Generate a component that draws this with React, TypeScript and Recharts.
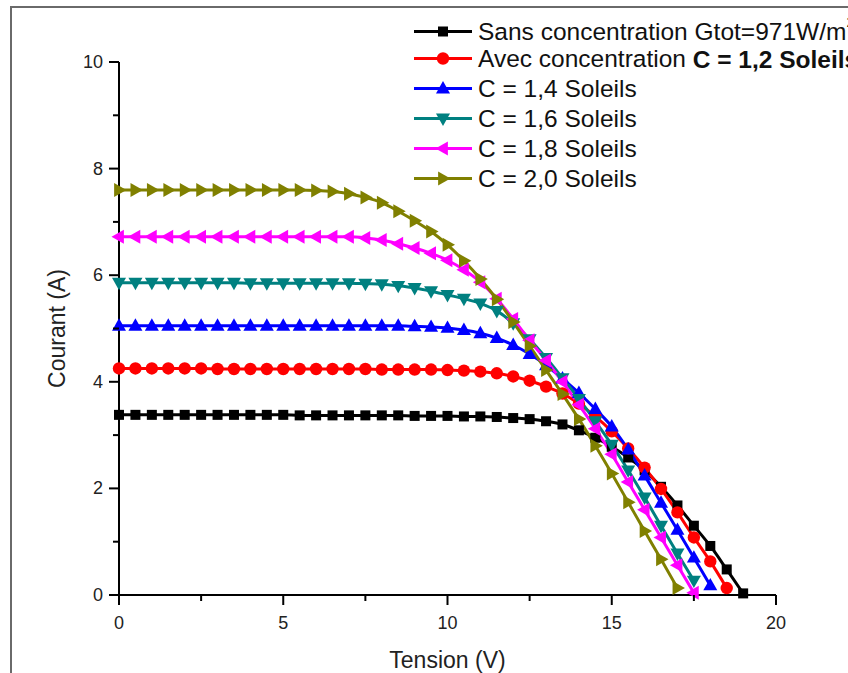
import React from 'react';
import { LineChart, Line, XAxis, YAxis, Legend } from 'recharts';

// Tension (V) grid shared by all curves
const voltage = [
  0, 0.5, 1, 1.5, 2, 2.5, 3, 3.5, 4, 4.5, 5, 5.5, 6, 6.5, 7, 7.5, 8, 8.5, 9, 9.5,
  10, 10.5, 11, 11.5, 12, 12.5, 13, 13.5, 14, 14.5, 15, 15.5, 16, 16.5, 17, 17.5,
  18, 18.5, 19,
];

// Courant (A) for each curve
const sansConcentration = [
  3.38, 3.38, 3.38, 3.38, 3.38, 3.38, 3.38, 3.38, 3.38, 3.38, 3.38, 3.37, 3.37, 3.37,
  3.37, 3.37, 3.37, 3.37, 3.36, 3.36, 3.36, 3.35, 3.35, 3.34, 3.32, 3.3, 3.26, 3.2,
  3.09, 2.95, 2.78, 2.58, 2.34, 2.03, 1.68, 1.3, 0.92, 0.48, 0.03,
];
const c12 = [
  4.25, 4.25, 4.25, 4.25, 4.25, 4.25, 4.24, 4.24, 4.24, 4.24, 4.24, 4.24, 4.24, 4.24,
  4.24, 4.24, 4.23, 4.23, 4.23, 4.23, 4.22, 4.21, 4.19, 4.16, 4.1, 4.02, 3.91, 3.78,
  3.59, 3.35, 3.07, 2.75, 2.39, 1.99, 1.55, 1.08, 0.63, 0.13,
];
const c14 = [
  5.05, 5.05, 5.05, 5.05, 5.05, 5.05, 5.05, 5.05, 5.05, 5.05, 5.05, 5.05, 5.05, 5.05,
  5.05, 5.05, 5.05, 5.05, 5.04, 5.03, 5.01, 4.97, 4.91, 4.82, 4.69, 4.52, 4.31, 4.06,
  3.79, 3.49, 3.16, 2.73, 2.24, 1.73, 1.22, 0.7, 0.18,
];
const c16 = [
  5.86, 5.86, 5.86, 5.86, 5.86, 5.86, 5.86, 5.86, 5.85, 5.85, 5.85, 5.85, 5.85, 5.85,
  5.85, 5.84, 5.83, 5.8, 5.76, 5.7, 5.63, 5.56, 5.47, 5.33, 5.1, 4.8, 4.45, 4.07,
  3.68, 3.26, 2.82, 2.34, 1.83, 1.3, 0.78, 0.27,
];
const c18 = [
  6.72, 6.72, 6.72, 6.72, 6.72, 6.72, 6.72, 6.72, 6.72, 6.72, 6.72, 6.72, 6.72, 6.72,
  6.72, 6.7, 6.66, 6.59, 6.51, 6.41, 6.28, 6.1, 5.87, 5.56, 5.18, 4.78, 4.4, 4.0,
  3.57, 3.12, 2.64, 2.12, 1.6, 1.08, 0.56, 0.04,
];
const c20 = [
  7.6, 7.6, 7.6, 7.6, 7.6, 7.6, 7.6, 7.6, 7.6, 7.6, 7.6, 7.6, 7.59, 7.57, 7.53, 7.46,
  7.36, 7.2, 7.02, 6.82, 6.57, 6.27, 5.93, 5.55, 5.12, 4.67, 4.22, 3.77, 3.3, 2.8,
  2.28, 1.74, 1.2, 0.67, 0.13,
];

const seriesValues = [sansConcentration, c12, c14, c16, c18, c20];
const seriesKeys = ['sans', 'c12', 'c14', 'c16', 'c18', 'c20'];
const seriesColors = ['#000000', '#ff0000', '#0000ff', '#008080', '#ff00ff', '#808000'];
const seriesShapes = ['square', 'circle', 'up', 'down', 'left', 'right'];
const legendPlain = [
  'Sans concentration Gtot=971W/m',
  'Avec concentration ',
  'C = 1,4 Soleils',
  'C = 1,6 Soleils',
  'C = 1,8 Soleils',
  'C = 2,0 Soleils',
];
const legendBold = ['', 'C = 1,2 Soleils', '', '', '', ''];
const legendSup = ['2', '', '', '', '', ''];

const xTicks = [0, 2.5, 5, 7.5, 10, 12.5, 15, 17.5, 20];
const yTicks = [0, 1, 2, 3, 4, 5, 6, 7, 8, 9, 10];

const FONT = '"Liberation Sans", Arial, Helvetica, sans-serif';

const seriesData = seriesValues.map((vals) =>
  vals.map((cur, i) => ({ v: voltage[i], i: cur }))
);

function Marker({ shape, cx, cy, color }: any) {
  const s = 7;
  switch (shape) {
    case 'square':
      return <rect x={cx - 5} y={cy - 5} width={10} height={10} fill={color} />;
    case 'circle':
      return <circle cx={cx} cy={cy} r={6.2} fill={color} />;
    case 'up':
      return (
        <polygon
          points={`${cx},${cy - s - 0.5} ${cx + s},${cy + s * 0.7} ${cx - s},${cy + s * 0.7}`}
          fill={color}
        />
      );
    case 'down':
      return (
        <polygon
          points={`${cx},${cy + s + 0.5} ${cx + s},${cy - s * 0.7} ${cx - s},${cy - s * 0.7}`}
          fill={color}
        />
      );
    case 'left':
      return (
        <polygon
          points={`${cx - s - 0.5},${cy} ${cx + s * 0.7},${cy - s} ${cx + s * 0.7},${cy + s}`}
          fill={color}
        />
      );
    default:
      return (
        <polygon
          points={`${cx + s + 0.5},${cy} ${cx - s * 0.7},${cy - s} ${cx - s * 0.7},${cy + s}`}
          fill={color}
        />
      );
  }
}

const makeDot = (k: number) => (props: any) => {
  const { cx, cy, index } = props;
  if (cx == null || cy == null) return <g key={`d-${k}-${index}`} />;
  return (
    <g key={`d-${k}-${index}`}>
      <Marker shape={seriesShapes[k]} cx={cx} cy={cy} color={seriesColors[k]} />
    </g>
  );
};

const XTick = (props: any) => {
  const { x, y, payload } = props;
  const major = payload.value % 5 === 0;
  return (
    <g>
      <line x1={x} y1={y} x2={x} y2={y + (major ? 10 : 6)} stroke="#000" strokeWidth={2} />
      {major && (
        <text
          x={x}
          y={y + 28}
          textAnchor="middle"
          dominantBaseline="central"
          fontSize={18}
          fontFamily={FONT}
          fill="#222"
        >
          {payload.value}
        </text>
      )}
    </g>
  );
};

const YTick = (props: any) => {
  const { x, y, payload } = props;
  const major = payload.value % 2 === 0;
  return (
    <g>
      <line x1={x} y1={y} x2={x - (major ? 10 : 6)} y2={y} stroke="#000" strokeWidth={2} />
      {major && (
        <text
          x={x - 16}
          y={y}
          textAnchor="end"
          dominantBaseline="central"
          fontSize={18}
          fontFamily={FONT}
          fill="#222"
        >
          {payload.value}
        </text>
      )}
    </g>
  );
};

const renderLegend = () => {
  const rowsY = [31.5, 58.5, 88.5, 118.5, 148.5, 178.5];
  return (
    <svg width={848} height={200} style={{ display: 'block' }}>
      {seriesKeys.map((k, idx) => {
        const y = rowsY[idx];
        return (
          <g key={k}>
            <line x1={414} y1={y} x2={472} y2={y} stroke={seriesColors[idx]} strokeWidth={3} />
            <Marker shape={seriesShapes[idx]} cx={443} cy={y} color={seriesColors[idx]} />
            <text
              x={478}
              y={y}
              dominantBaseline="central"
              fontSize={24.5}
              fontFamily={FONT}
              fill="#111"
            >
              {legendPlain[idx]}
              {legendBold[idx] && <tspan fontWeight="bold">{legendBold[idx]}</tspan>}
              {legendSup[idx] && (
                <tspan fontSize={14} dy={-10}>
                  {legendSup[idx]}
                </tspan>
              )}
            </text>
          </g>
        );
      })}
    </svg>
  );
};

export default function App() {
  return (
    <div
      style={{
        position: 'fixed',
        left: 0,
        top: 0,
        width: 848,
        height: 673,
        overflow: 'hidden',
        background: '#fff',
      }}
    >
      <div
        style={{
          position: 'absolute',
          left: 10,
          top: 6,
          width: 900,
          height: 700,
          border: '2px solid #6a6a6a',
          boxSizing: 'border-box',
        }}
      />
      <div style={{ position: 'absolute', left: 0, top: 0 }}>
        <LineChart
          width={848}
          height={673}
          margin={{ top: 62, right: 72, left: 59, bottom: 28 }}
        >
          <XAxis
            type="number"
            dataKey="v"
            domain={[0, 20]}
            ticks={xTicks}
            interval={0}
            allowDuplicatedCategory={false}
            height={50}
            tickSize={0}
            tickMargin={0}
            tickLine={false}
            axisLine={{ stroke: '#000', strokeWidth: 2 }}
            tick={<XTick />}
            label={{
              content: (p: any) => {
                const vb = p.viewBox;
                return (
                  <text
                    x={vb.x + vb.width / 2}
                    y={vb.y + 65}
                    textAnchor="middle"
                    dominantBaseline="central"
                    fontSize={23}
                    fontFamily={FONT}
                    fill="#222"
                  >
                    Tension (V)
                  </text>
                );
              },
            }}
          />
          <YAxis
            type="number"
            domain={[0, 10]}
            ticks={yTicks}
            interval={0}
            width={60}
            tickSize={0}
            tickMargin={0}
            tickLine={false}
            axisLine={{ stroke: '#000', strokeWidth: 2 }}
            tick={<YTick />}
            label={{
              content: (p: any) => {
                const vb = p.viewBox;
                const cx = vb.x - 2;
                const cy = vb.y + vb.height / 2;
                return (
                  <text
                    x={cx}
                    y={cy}
                    transform={`rotate(-90 ${cx} ${cy})`}
                    textAnchor="middle"
                    dominantBaseline="central"
                    fontSize={23}
                    fontFamily={FONT}
                    fill="#222"
                  >
                    Courant (A)
                  </text>
                );
              },
            }}
          />
          <Legend
            layout="vertical"
            align="center"
            verticalAlign="middle"
            content={renderLegend}
            wrapperStyle={{ position: 'absolute', left: 0, top: 0, width: 848, height: 200 }}
          />
          {seriesKeys.map((k, idx) => (
            <Line
              key={k}
              data={seriesData[idx]}
              dataKey="i"
              name={k}
              type="monotone"
              stroke={seriesColors[idx]}
              strokeWidth={3}
              dot={makeDot(idx)}
              activeDot={false}
              isAnimationActive={false}
            />
          ))}
        </LineChart>
      </div>
    </div>
  );
}
